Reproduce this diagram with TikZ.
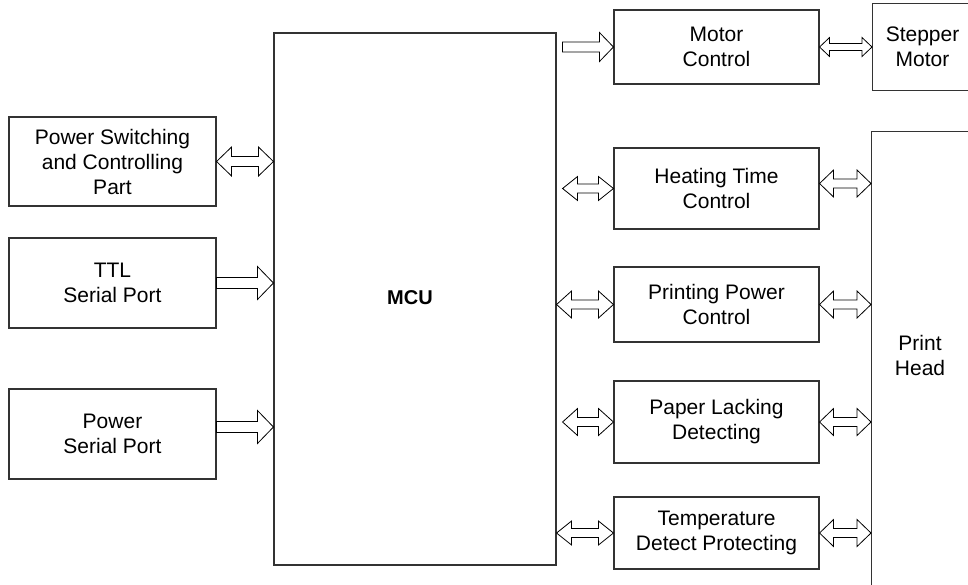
\documentclass[tikz,border=0pt]{standalone}
\usepackage{fontspec}
\setmainfont{Liberation Sans}
\usetikzlibrary{calc}

\begin{document}
\begin{tikzpicture}[
    x=1pt, y=-1pt,
    block/.style={draw=black!80, line width=1.1pt, align=center, inner sep=0pt,
        font=\fontsize{21}{25}\selectfont},
    side/.style={block, minimum width=207, minimum height=90},
    ctrl/.style={block, minimum width=205},
    bus/.style n args={3}{draw, line width=0.8pt, to path={
        let \p1=(\tikztostart), \p2=(\tikztotarget) in
        (\x1,\y1) -- (\x1+#1,\y1+#2) -- (\x1+#1,\y1+#3) -- (\x2-#1,\y1+#3) -- (\x2-#1,\y1+#2) -- (\x2,\y1)
        -- (\x2-#1,\y1-#2) -- (\x2-#1,\y1-#3) -- (\x1+#1,\y1-#3) -- (\x1+#1,\y1-#2) -- cycle}},
    feed/.style n args={3}{draw, line width=0.8pt, to path={
        let \p1=(\tikztostart), \p2=(\tikztotarget) in
        (\x1,\y1+#3) -- (\x2-#1,\y1+#3) -- (\x2-#1,\y1+#2) -- (\x2,\y1)
        -- (\x2-#1,\y1-#2) -- (\x2-#1,\y1-#3) -- (\x1,\y1-#3) -- cycle}}
]
\useasboundingbox (0,0) rectangle (968,584);
\clip (0,0) rectangle (968,584);

% main controller
\node[block, minimum width=282, minimum height=532] (mcu) at (415,299) {};
\node[font=\fontsize{20}{24}\selectfont\bfseries] (mcutext) at (410,298) {MCU};

% left side
\node[side, minimum height=89] (pwrsw) at (112.5,161.5) {Power Switching\\and Controlling\\Part};
\node[side] (ttl) at (112.5,283) {TTL\\Serial Port};
\node[side] (pwrser) at (112.5,434) {Power\\Serial Port};

% right side
\node[ctrl, minimum height=74] (motor) at (716.5,47) {Motor\\Control};
\node[ctrl, minimum height=81] (heat) at (716.5,188.5) {Heating Time\\Control};
\node[ctrl, minimum height=75] (power) at (716.5,304.5) {Printing Power\\Control};
\node[ctrl, minimum height=82] (paper) at (716.5,422) {Paper Lacking\\Detecting};
\node[ctrl, minimum height=72] (temp) at (716.5,533) {Temperature\\Detect Protecting};

\node[block, minimum width=100, minimum height=87, anchor=north west] (stepper) at (872,3) {Stepper\\Motor};
\node[block, minimum width=100, minimum height=520, anchor=north west] (phead) at (871,131) {};
\node[font=\fontsize{21}{25}\selectfont, align=center] (phtext) at (920,355) {Print\\Head};

% connectors
\draw[bus={15pt}{14.5pt}{5pt}] (pwrsw.east) to (mcu.west |- pwrsw.east);
\draw[feed={16pt}{16.5pt}{5.5pt}] (ttl.east) to (mcu.west |- ttl.east);
\draw[feed={16pt}{16.5pt}{5.5pt}] ($(pwrser.east)+(0,-7)$) to (mcu.west |- pwrser.east);

\draw[feed={14pt}{14.5pt}{5pt}] ($(mcu.east |- motor.west)+(6,0)$) to (motor.west);
\draw[bus={10pt}{9.5pt}{3.5pt}] (motor.east) to (stepper.west |- motor.east);

\draw[bus={15pt}{12pt}{4.5pt}] ($(mcu.east |- heat.west)+(6,0)$) to (heat.west);
\draw[bus={15pt}{13.5pt}{4.5pt}] (mcu.east |- power.west) to (power.west);
\draw[bus={15pt}{13.5pt}{4.5pt}] ($(mcu.east |- paper.west)+(6,0)$) to (paper.west);
\draw[bus={15pt}{12pt}{4.5pt}] (mcu.east |- temp.west) to (temp.west);

\draw[bus={14pt}{13.5pt}{4.5pt}] ($(heat.east)+(0,-5)$) to (phead.west |- heat.east);
\draw[bus={14pt}{13.5pt}{4.5pt}] (power.east) to (phead.west |- power.east);
\draw[bus={14pt}{13.5pt}{4.5pt}] (paper.east) to (phead.west |- paper.east);
\draw[bus={14pt}{13.5pt}{4.5pt}] (temp.east) to (phead.west |- temp.east);

\end{tikzpicture}
\end{document}
